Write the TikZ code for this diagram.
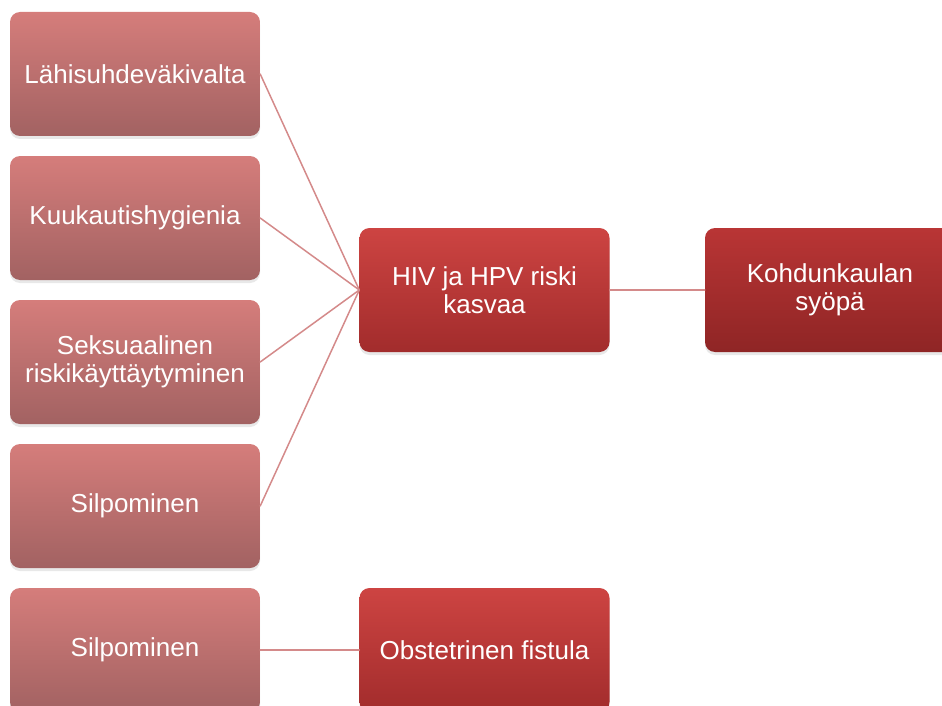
\documentclass[tikz,border=0pt]{standalone}
\usepackage{fontspec}
\setmainfont{Liberation Sans}
\usetikzlibrary{shadows}
\definecolor{causetop}{HTML}{D57D7B}
\definecolor{causebot}{HTML}{A26262}
\definecolor{risktop}{HTML}{CD4442}
\definecolor{riskbot}{HTML}{A22C2C}
\definecolor{endtop}{HTML}{B93535}
\definecolor{endbot}{HTML}{8F2525}
\definecolor{linkcol}{HTML}{D48A8A}
\begin{document}
\begin{tikzpicture}[x=1pt, y=-1pt, line join=round, line cap=round,
	box/.style={rounded corners=10pt, minimum width=250pt, minimum height=124pt, inner sep=0pt,
		align=center, text=white, font=\fontsize{26}{28}\selectfont,
		drop shadow={opacity=0.18, shadow xshift=0pt, shadow yshift=-3pt}},
	cause/.style={box, top color=causetop, bottom color=causebot},
	risk/.style={box, top color=risktop, bottom color=riskbot},
	outcome/.style={box, top color=endtop, bottom color=endbot},
	link/.style={draw=linkcol, line width=1.5pt}]
	\useasboundingbox (0,0) rectangle (942,706);
	\clip (0,0) rectangle (942,706);
	% vasen sarake
	\node[cause] (vakivalta) at (135,74) {Lähisuhdeväkivalta};
	\node[cause] (hygienia) at (135,218) {Kuukautishygienia};
	\node[cause] (seksi) at (135,362) {Seksuaalinen\\riskikäyttäytyminen};
	\node[cause] (silpo) at (135,506) {Silpominen};
	\node[cause] (silpob) at (135,650) {Silpominen};
	% keskimmäinen ja oikea
	\node[risk] (hiv) at (484.5,290) {HIV ja HPV riski\\kasvaa};
	\node[outcome] (syopa) at (830,290) {Kohdunkaulan\\syöpä};
	\node[risk] (fistula) at (484.5,650) {Obstetrinen fistula};
	% yhteydet
	\foreach \n in {vakivalta,hygienia,seksi,silpo}
		\draw[link] (\n.east)--(hiv.west);
	\draw[link] (hiv.east)--(syopa.west);
	\draw[link] (silpob.east)--(fistula.west);
\end{tikzpicture}
\end{document}
